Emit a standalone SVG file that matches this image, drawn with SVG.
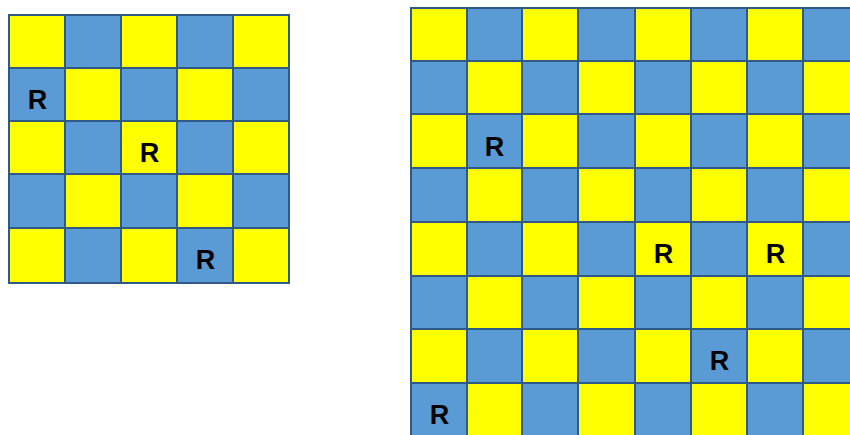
<svg xmlns="http://www.w3.org/2000/svg" width="850" height="435" viewBox="0 0 850 435">
<style>
.y{fill:#FFFF00;stroke:#2F5A88;stroke-width:2}
.b{fill:#5B9BD5;stroke:#2F5A88;stroke-width:2}
.r{font-family:"Liberation Sans",Arial,sans-serif;font-weight:bold;font-size:27px;fill:#000;text-anchor:middle}
</style>
<rect width="850" height="435" fill="#fff"/>
<g id="small-board">
<rect class="y" x="9" y="15" width="56" height="53"/><rect class="b" x="65" y="15" width="56" height="53"/><rect class="y" x="121" y="15" width="56" height="53"/><rect class="b" x="177" y="15" width="56" height="53"/><rect class="y" x="233" y="15" width="56" height="53"/>
<rect class="b" x="9" y="68" width="56" height="53"/><rect class="y" x="65" y="68" width="56" height="53"/><rect class="b" x="121" y="68" width="56" height="53"/><rect class="y" x="177" y="68" width="56" height="53"/><rect class="b" x="233" y="68" width="56" height="53"/>
<rect class="y" x="9" y="121" width="56" height="53"/><rect class="b" x="65" y="121" width="56" height="53"/><rect class="y" x="121" y="121" width="56" height="53"/><rect class="b" x="177" y="121" width="56" height="53"/><rect class="y" x="233" y="121" width="56" height="53"/>
<rect class="b" x="9" y="174" width="56" height="54"/><rect class="y" x="65" y="174" width="56" height="54"/><rect class="b" x="121" y="174" width="56" height="54"/><rect class="y" x="177" y="174" width="56" height="54"/><rect class="b" x="233" y="174" width="56" height="54"/>
<rect class="y" x="9" y="228" width="56" height="55"/><rect class="b" x="65" y="228" width="56" height="55"/><rect class="y" x="121" y="228" width="56" height="55"/><rect class="b" x="177" y="228" width="56" height="55"/><rect class="y" x="233" y="228" width="56" height="55"/>
<text class="r" x="37.5" y="109">R</text>
<text class="r" x="149.5" y="162">R</text>
<text class="r" x="205.5" y="269">R</text>
</g>
<g id="large-board">
<rect class="y" x="411" y="8" width="56" height="53"/><rect class="b" x="467" y="8" width="55" height="53"/><rect class="y" x="522" y="8" width="56" height="53"/><rect class="b" x="578" y="8" width="57" height="53"/><rect class="y" x="635" y="8" width="56" height="53"/><rect class="b" x="691" y="8" width="56" height="53"/><rect class="y" x="747" y="8" width="56" height="53"/><rect class="b" x="803" y="8" width="56" height="53"/>
<rect class="b" x="411" y="61" width="56" height="53"/><rect class="y" x="467" y="61" width="55" height="53"/><rect class="b" x="522" y="61" width="56" height="53"/><rect class="y" x="578" y="61" width="57" height="53"/><rect class="b" x="635" y="61" width="56" height="53"/><rect class="y" x="691" y="61" width="56" height="53"/><rect class="b" x="747" y="61" width="56" height="53"/><rect class="y" x="803" y="61" width="56" height="53"/>
<rect class="y" x="411" y="114" width="56" height="54"/><rect class="b" x="467" y="114" width="55" height="54"/><rect class="y" x="522" y="114" width="56" height="54"/><rect class="b" x="578" y="114" width="57" height="54"/><rect class="y" x="635" y="114" width="56" height="54"/><rect class="b" x="691" y="114" width="56" height="54"/><rect class="y" x="747" y="114" width="56" height="54"/><rect class="b" x="803" y="114" width="56" height="54"/>
<rect class="b" x="411" y="168" width="56" height="54"/><rect class="y" x="467" y="168" width="55" height="54"/><rect class="b" x="522" y="168" width="56" height="54"/><rect class="y" x="578" y="168" width="57" height="54"/><rect class="b" x="635" y="168" width="56" height="54"/><rect class="y" x="691" y="168" width="56" height="54"/><rect class="b" x="747" y="168" width="56" height="54"/><rect class="y" x="803" y="168" width="56" height="54"/>
<rect class="y" x="411" y="222" width="56" height="54"/><rect class="b" x="467" y="222" width="55" height="54"/><rect class="y" x="522" y="222" width="56" height="54"/><rect class="b" x="578" y="222" width="57" height="54"/><rect class="y" x="635" y="222" width="56" height="54"/><rect class="b" x="691" y="222" width="56" height="54"/><rect class="y" x="747" y="222" width="56" height="54"/><rect class="b" x="803" y="222" width="56" height="54"/>
<rect class="b" x="411" y="276" width="56" height="53"/><rect class="y" x="467" y="276" width="55" height="53"/><rect class="b" x="522" y="276" width="56" height="53"/><rect class="y" x="578" y="276" width="57" height="53"/><rect class="b" x="635" y="276" width="56" height="53"/><rect class="y" x="691" y="276" width="56" height="53"/><rect class="b" x="747" y="276" width="56" height="53"/><rect class="y" x="803" y="276" width="56" height="53"/>
<rect class="y" x="411" y="329" width="56" height="54"/><rect class="b" x="467" y="329" width="55" height="54"/><rect class="y" x="522" y="329" width="56" height="54"/><rect class="b" x="578" y="329" width="57" height="54"/><rect class="y" x="635" y="329" width="56" height="54"/><rect class="b" x="691" y="329" width="56" height="54"/><rect class="y" x="747" y="329" width="56" height="54"/><rect class="b" x="803" y="329" width="56" height="54"/>
<rect class="b" x="411" y="383" width="56" height="54"/><rect class="y" x="467" y="383" width="55" height="54"/><rect class="b" x="522" y="383" width="56" height="54"/><rect class="y" x="578" y="383" width="57" height="54"/><rect class="b" x="635" y="383" width="56" height="54"/><rect class="y" x="691" y="383" width="56" height="54"/><rect class="b" x="747" y="383" width="56" height="54"/><rect class="y" x="803" y="383" width="56" height="54"/>
<text class="r" x="494.5" y="156">R</text>
<text class="r" x="663.5" y="263">R</text>
<text class="r" x="775.5" y="263">R</text>
<text class="r" x="719.5" y="370">R</text>
<text class="r" x="439.5" y="424">R</text>
</g>
</svg>
